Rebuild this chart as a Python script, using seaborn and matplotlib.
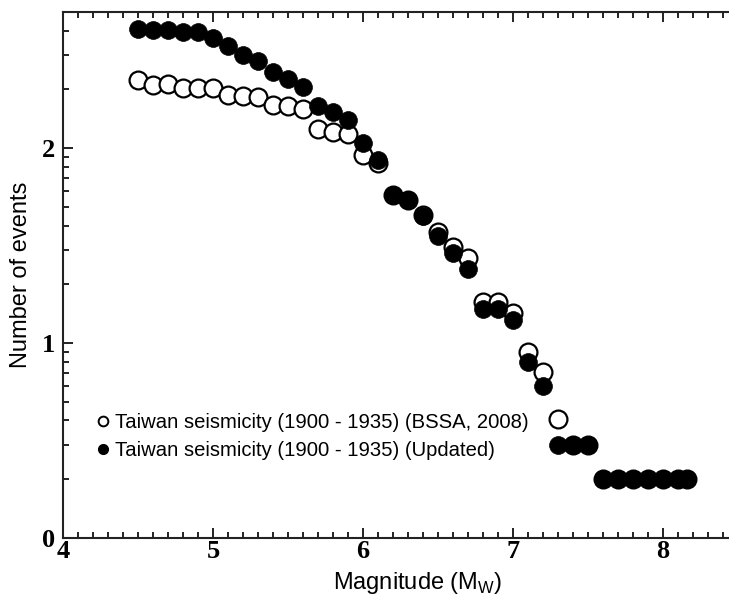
import numpy as np
import pandas as pd
import seaborn as sns
import matplotlib
matplotlib.use("Agg")
import matplotlib.pyplot as plt
from matplotlib.lines import Line2D
from matplotlib.ticker import FixedLocator, MultipleLocator

# ---- data ----
magnitude = [4.5, 4.6, 4.7, 4.8, 4.9, 5.0, 5.1, 5.2, 5.3, 5.4, 5.5, 5.6, 5.7, 5.8, 5.9,
             6.0, 6.1, 6.2, 6.3, 6.4, 6.5, 6.6, 6.7, 6.8, 6.9, 7.0, 7.1, 7.2, 7.3, 7.4,
             7.5, 7.6, 7.7, 7.8, 7.9, 8.0, 8.1, 8.16]
bssa_2008 = [2.347, 2.326, 2.330, 2.310, 2.310, 2.308, 2.270, 2.265, 2.262, 2.219, 2.214,
             2.202, 2.100, 2.081, 2.074, 1.963, 1.925, 1.760, 1.732, 1.655, 1.569, 1.492,
             1.436, 1.210, 1.210, 1.151, 0.954, 0.848, 0.607, 0.477, 0.477, 0.301, 0.301,
             0.301, 0.301, 0.301, 0.301, 0.301]
updated = [2.612, 2.607, 2.607, 2.598, 2.597, 2.564, 2.522, 2.479, 2.445, 2.390, 2.353,
           2.316, 2.217, 2.184, 2.145, 2.026, 1.937, 1.757, 1.732, 1.650, 1.547, 1.462,
           1.378, 1.176, 1.176, 1.116, 0.903, 0.778, 0.477, 0.477, 0.477, 0.301, 0.301,
           0.301, 0.301, 0.301, 0.301, 0.301]
label_bssa = "Taiwan seismicity (1900 - 1935) (BSSA, 2008)"
label_upd = "Taiwan seismicity (1900 - 1935) (Updated)"
x_ticks = [4, 5, 6, 7, 8]
y_ticks = [0, 1, 2]

df_bssa = pd.DataFrame({"Magnitude": magnitude, "N": bssa_2008})
df_upd = pd.DataFrame({"Magnitude": magnitude, "N": updated})

sns.set_style("ticks")
plt.rcParams["font.family"] = ["Liberation Sans", "DejaVu Sans"]
plt.rcParams["text.color"] = "black"
plt.rcParams["axes.labelcolor"] = "black"
plt.rcParams["xtick.color"] = "black"
plt.rcParams["ytick.color"] = "black"

fig = plt.figure(figsize=(7.29, 6.05), dpi=100)
ax_right = 773.0
ax = fig.add_axes([63 / 729, 1 - 537.7 / 605, (ax_right - 63) / 729, (537.7 - 11.7) / 605])

sns.scatterplot(data=df_bssa, x="Magnitude", y="N", ax=ax, s=165, marker="o",
                facecolor="white", edgecolor="black", linewidth=1.6, zorder=3, clip_on=False)
sns.scatterplot(data=df_upd, x="Magnitude", y="N", ax=ax, s=165, marker="o",
                color="black", edgecolor="black", linewidth=0.5, zorder=4, clip_on=False)

ax.set_xlim(4, 8.733)
ax.set_ylim(0, 2.7)

ax.xaxis.set_major_locator(FixedLocator(x_ticks))
ax.xaxis.set_minor_locator(MultipleLocator(0.1))
ax.yaxis.set_major_locator(FixedLocator(y_ticks))
ymin = [d + np.log10(k) for d in y_ticks for k in range(2, 10) if d + np.log10(k) < 2.7]
ax.yaxis.set_minor_locator(FixedLocator(ymin))

for s in ["left", "bottom", "top"]:
    ax.spines[s].set_visible(True)
    ax.spines[s].set_linewidth(1.5)
    ax.spines[s].set_color("#222222")
ax.spines["right"].set_visible(False)

ax.tick_params(which="both", direction="in", top=True, right=False, width=1.4, color="#222222")
ax.tick_params(which="major", length=7)
ax.tick_params(axis="x", which="major", pad=2)
ax.tick_params(axis="y", which="major", pad=6)
ax.tick_params(which="minor", length=4)
ax.set_xticklabels([str(v) for v in x_ticks], fontfamily="Liberation Serif",
                   fontweight="bold", fontsize=19)
ax.set_yticklabels([str(v) for v in y_ticks], fontfamily="Liberation Serif",
                   fontweight="bold", fontsize=19)

ax.set_xlabel(r"Magnitude (M$_\mathregular{W}$)", fontsize=17, labelpad=5)
ax.set_ylabel("Number of events", fontsize=17, labelpad=7)

handles = [
    Line2D([], [], marker="o", linestyle="none", markersize=7, markerfacecolor="white",
           markeredgecolor="black", markeredgewidth=1.4),
    Line2D([], [], marker="o", linestyle="none", markersize=7, markerfacecolor="black",
           markeredgecolor="black"),
]
ax.legend(handles, [label_bssa, label_upd], loc="upper left", bbox_to_anchor=(0.033, 0.256),
          frameon=False, fontsize=14.6, handlelength=0.6, handletextpad=0.3,
          borderpad=0, labelspacing=0.45)

fig.savefig("out.png", dpi=100, facecolor="white")
